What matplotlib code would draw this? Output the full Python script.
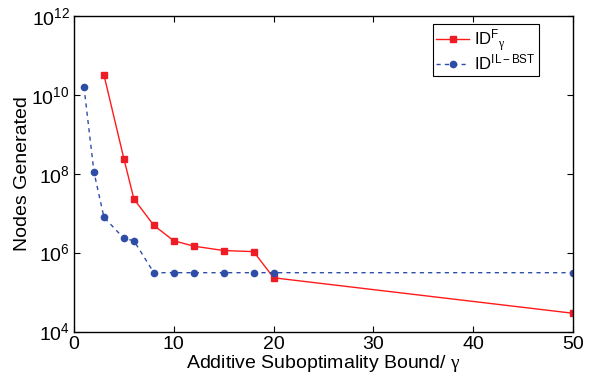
import matplotlib
matplotlib.use("Agg")
import matplotlib.pyplot as plt
from matplotlib.ticker import NullLocator

plt.rcParams['font.family'] = ['Liberation Sans', 'DejaVu Sans']
plt.rcParams['mathtext.fontset'] = 'custom'
plt.rcParams['mathtext.rm'] = 'Liberation Sans'
plt.rcParams['mathtext.it'] = 'Liberation Sans:italic'
plt.rcParams['mathtext.sf'] = 'Liberation Serif'

# data
x_idf = [3, 5, 6, 8, 10, 12, 15, 18, 20, 50]
y_idf = [3.2e10, 2.4e8, 2.3e7, 4.9e6, 2.0e6, 1.46e6, 1.13e6, 1.06e6, 2.3e5, 2.9e4]
x_ilbst = [1, 2, 3, 5, 6, 8, 10, 12, 15, 18, 20, 50]
y_ilbst = [1.6e10, 1.1e8, 7.9e6, 2.3e6, 2.0e6, 3.1e5, 3.1e5, 3.1e5, 3.1e5, 3.1e5, 3.1e5, 3.1e5]
label_idf = r'ID$^{\mathrm{F}}{}_{\mathsf{\gamma}}$'
label_ilbst = r'ID$^{\mathrm{IL-BST}}$'
xlabel = r'Additive Suboptimality Bound/ $\mathsf{\gamma}$'
ylabel = 'Nodes Generated'
xticks = [0, 10, 20, 30, 40, 50]
yticks = [1e4, 1e6, 1e8, 1e10, 1e12]

fig = plt.figure(figsize=(5.95, 3.8), dpi=100)
ax = fig.add_axes([74/595, 1-331.5/380, (573-74)/595, (331.5-16)/380])

ax.plot(x_idf, y_idf, '-', color='#ff1a1a', lw=1.0, marker='s', ms=4.0,
        mfc='#ee1c24', mec='#ee1c24', label=label_idf)
ax.plot(x_ilbst, y_ilbst, '--', color='#2e4da6', lw=1.0, marker='o', ms=4.5,
        mfc='#2e4da6', mec='#2e4da6', dashes=(3, 3), label=label_ilbst)

ax.set_yscale('log')
ax.set_xlim(0, 50)
ax.set_ylim(1e4, 1e12)
ax.set_xticks(xticks)
ax.set_yticks(yticks)
ax.yaxis.set_minor_locator(NullLocator())
ax.tick_params(direction='in', top=True, right=True, labelsize=14, length=4, width=0.8, pad=3)
for s in ax.spines.values():
    s.set_linewidth(1.0)

ax.set_xlabel(xlabel, fontsize=14, labelpad=0)
ax.set_ylabel(ylabel, fontsize=14)
ax.yaxis.set_label_coords(-0.086, 0.5)

leg = ax.legend(loc='upper right', bbox_to_anchor=(539/595, 1-23.7/380),
                bbox_transform=fig.transFigure, borderaxespad=0, fontsize=12,
                fancybox=False, edgecolor='black', framealpha=1,
                handlelength=2.0, handletextpad=0.3, borderpad=0.2, labelspacing=0.0)
leg.get_frame().set_linewidth(0.8)

fig.savefig('out.png', dpi=100)
